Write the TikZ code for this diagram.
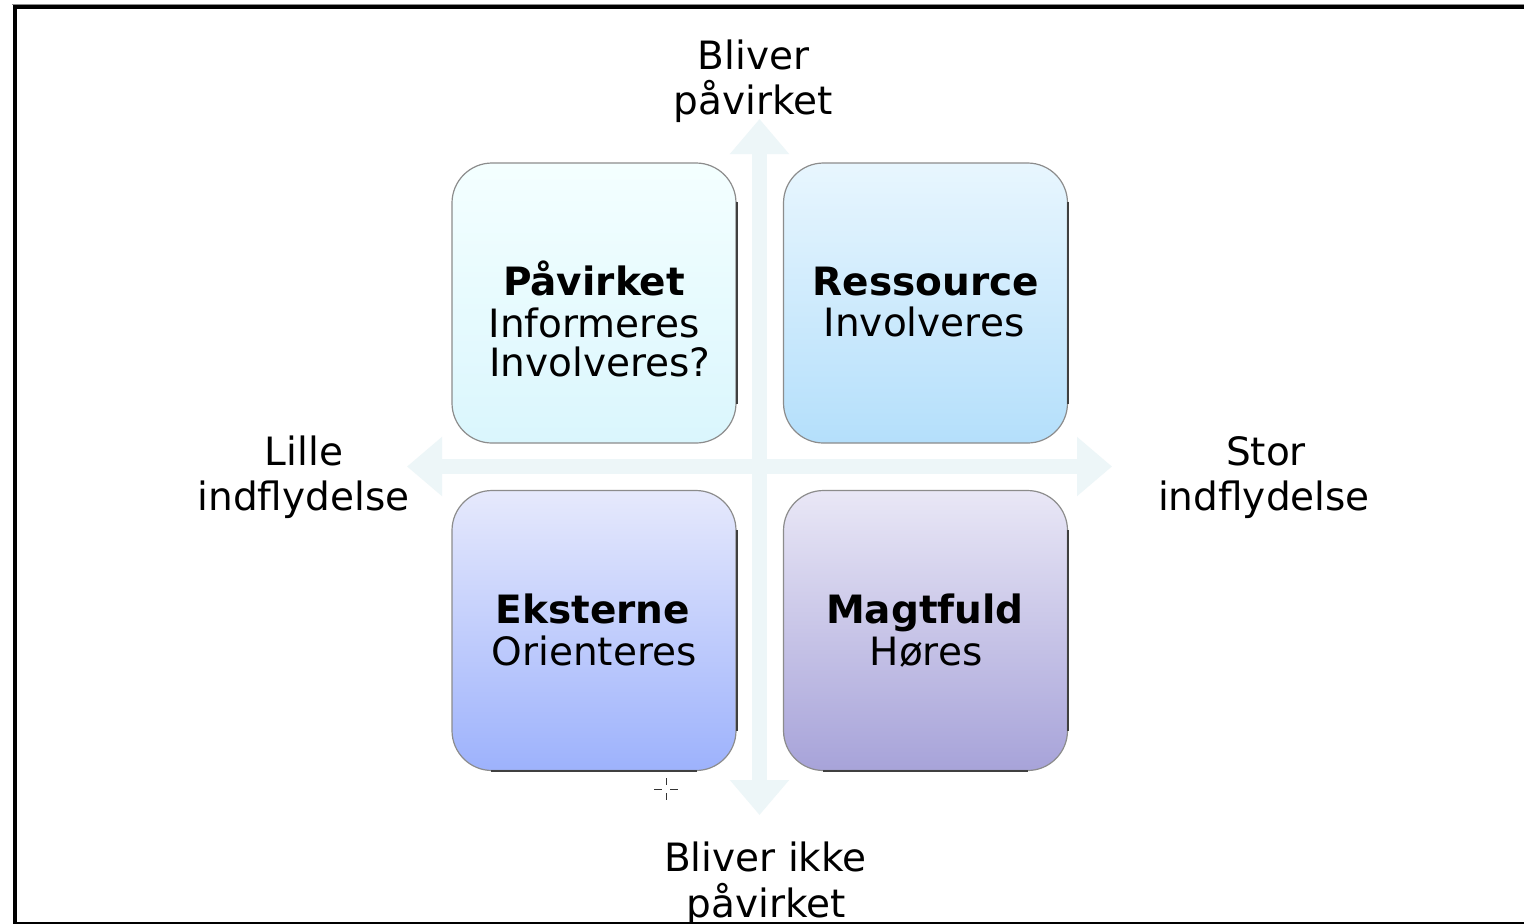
\documentclass[tikz,border=0pt]{standalone}
\usepackage{fontspec}
\setmainfont{DejaVu Sans}
\usetikzlibrary{arrows.meta}

\definecolor{crossc}{HTML}{EDF6F8}
\definecolor{tlTop}{HTML}{F4FFFF}
\definecolor{tlBot}{HTML}{DAF6FD}
\definecolor{trTop}{HTML}{E8F6FE}
\definecolor{trBot}{HTML}{B4DFFB}
\definecolor{blTop}{HTML}{E6E9FC}
\definecolor{blBot}{HTML}{9DB2FC}
\definecolor{brTop}{HTML}{E9E7F6}
\definecolor{brBot}{HTML}{A7A3D9}

\begin{document}
\begin{tikzpicture}[x=0.5pt,y=-0.5pt,
  quad/.style={rounded corners=20pt, draw=black!45, line width=0.6pt,
    minimum width=142pt, minimum height=140pt, inner sep=0pt},
  edgeshade/.style={draw=black!75, line width=1pt},
  lbl/.style={inner sep=0pt, anchor=base, font=\fontsize{19.5}{23}\selectfont},
  ttl/.style={inner sep=0pt, anchor=base, font=\fontsize{19.5}{23}\selectfont\bfseries},
  axis/.style={draw=crossc, line width=7.5pt,
    {Triangle[width=28.5pt,length=17.5pt]}-{Triangle[width=28.5pt,length=17.5pt]}}]

\useasboundingbox (0,0) rectangle (1524,923);
\fill[white] (0,0) rectangle (1524,923);

% axis cross
\coordinate (lt) at (407,466.5);
\coordinate (rt) at (1112,466.5);
\coordinate (tp) at (759.5,119);
\coordinate (bt) at (759.5,815);
\draw[axis] (lt) -- (rt);
\draw[axis] (tp) -- (bt);

% quadrants
\node[quad, top color=tlTop, bottom color=tlBot] (tl) at (594,303) {};
\node[quad, top color=trTop, bottom color=trBot] (tr) at (925.5,303) {};
\node[quad, top color=blTop, bottom color=blBot] (bl) at (594,630.5) {};
\node[quad, top color=brTop, bottom color=brBot] (br) at (925.5,630.5) {};

\foreach \q in {tl,tr,bl,br}
  \draw[edgeshade] ([yshift=-20pt]\q.north east) -- ([yshift=20pt]\q.south east);
\foreach \q in {bl,br}
  \draw[edgeshade] ([xshift=20pt]\q.south west) -- ([xshift=-20pt]\q.south east);

% quadrant texts
\node[ttl] (tl1) at (594,295) {Påvirket};
\node[lbl] (tl2) at (594,337) {Informeres};
\node[lbl] (tl3) at (600,376) {Involveres?};

\node[ttl] (tr1) at (926,295) {Ressource};
\node[lbl] (tr2) at (924,336) {Involveres};

\node[ttl] (bl1) at (593,623) {Eksterne};
\node[lbl] (bl2) at (594,665) {Orienteres};

\node[ttl] (br1) at (925,623) {Magtfuld};
\node[lbl] (br2) at (926,665) {Høres};

% axis labels
\node[lbl] (top1) at (753.5,69) {Bliver};
\node[lbl] (top2) at (753.5,114) {påvirket};
\node[lbl] (lft1) at (304,465) {Lille};
\node[lbl] (lft2) at (303.5,510) {indflydelse};
\node[lbl] (rgt1) at (1266,465) {Stor};
\node[lbl] (rgt2) at (1264,510) {indflydelse};
\node[lbl] (bot1) at (765.5,871) {Bliver ikke};
\node[lbl] (bot2) at (766,917) {påvirket};

% pointer mark
\coordinate (cur) at (666,789);
\draw[black!80, line width=0.5pt]
  ([yshift=5.5pt]cur) -- ([yshift=2pt]cur)
  ([yshift=-2pt]cur) -- ([yshift=-5.5pt]cur)
  ([xshift=-6pt]cur) -- ([xshift=-2pt]cur)
  ([xshift=2pt]cur) -- ([xshift=6pt]cur);

% frame
\draw[black!45, line width=0.6pt] (12,4.2) -- (1530,4.2);
\draw[black, line width=2pt] (14.5,930) -- (14.5,6.8) -- (1530,6.8);
\draw[black, line width=2pt] (14.5,923.5) -- (1530,923.5);
\end{tikzpicture}
\end{document}
